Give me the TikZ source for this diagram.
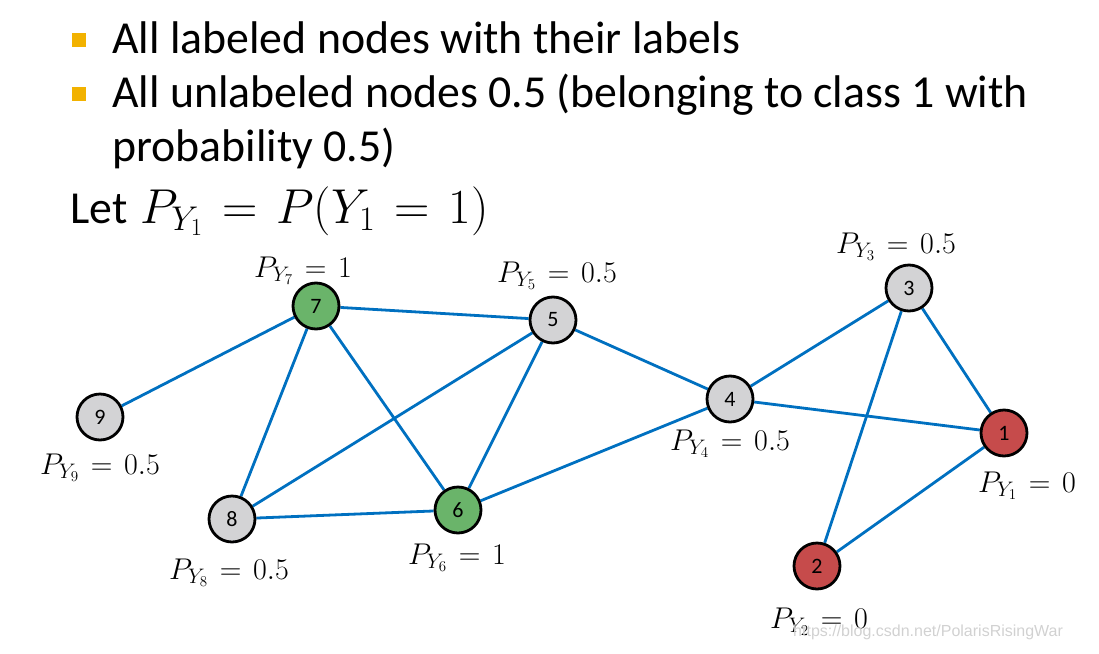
\RequirePackage{fix-cm}
\documentclass[tikz,border=0pt]{standalone}
\usepackage[no-math]{fontspec}
\usetikzlibrary{backgrounds}
\setmainfont{Carlito}
\newfontfamily\wmfont{Liberation Sans}
\definecolor{edgeblue}{RGB}{0,112,192}
\definecolor{nodegray}{RGB}{211,211,213}
\definecolor{nodegreen}{RGB}{106,180,106}
\definecolor{nodered}{RGB}{198,75,75}
\definecolor{bulletorange}{RGB}{242,178,0}
\thickmuskip=7mu plus 2mu
\tikzset{
  vert/.style={circle, draw=black, line width=2.8pt, minimum size=46pt, inner sep=0pt, font=\fontsize{22}{26}\selectfont},
  grayv/.style={vert, fill=nodegray},
  greenv/.style={vert, fill=nodegreen},
  redv/.style={vert, fill=nodered},
  edge/.style={draw=edgeblue, line width=2.8pt},
  plabel/.style={anchor=base, inner sep=0pt, font=\fontsize{30}{34}\selectfont},
  bodytext/.style={anchor=base west, inner sep=0pt, font=\fontsize{45.8}{54}\selectfont},
  bulletsq/.style={fill=bulletorange, draw=none, minimum size=14pt, inner sep=0pt}
}
\begin{document}
\begin{tikzpicture}[x=1pt, y=-1pt]
\useasboundingbox (0,0) rectangle (1099,653);
% bullets and text
\node[bulletsq] (b1) at (79,40) {};
\node[bulletsq] (b2) at (79,94) {};
\node[bodytext] (t1) at (112,53) {All labeled nodes with their labels};
\node[bodytext] (t2) at (112,107) {All unlabeled nodes 0.5 (belonging to class 1 with};
\node[bodytext] (t3) at (112,161) {probability 0.5)};
\node[bodytext] (t4) at (70,223) {Let\hspace{13pt}{\fontsize{49}{54}\selectfont$P_{Y_1}=P(Y_1=1)$}};
% vertices
\node[greenv] (n7) at (316,306) {7};
\node[grayv] (n5) at (553,320) {5};
\node[grayv] (n4) at (730,399) {4};
\node[grayv] (n3) at (909,288) {3};
\node[redv] (n1) at (1004,433) {1};
\node[redv] (n2) at (817,566) {2};
\node[grayv] (n9) at (100,417) {9};
\node[grayv] (n8) at (232,519) {8};
\node[greenv] (n6) at (458,510) {6};
% edges
\begin{scope}[on background layer]
\draw[edge] (n7) -- (n5);
\draw[edge] (n7) -- (n9);
\draw[edge] (n7) -- (n8);
\draw[edge] (n7) -- (n6);
\draw[edge] (n5) -- (n8);
\draw[edge] (n5) -- (n6);
\draw[edge] (n5) -- (n4);
\draw[edge] (n4) -- (n6);
\draw[edge] (n4) -- (n3);
\draw[edge] (n4) -- (n1);
\draw[edge] (n3) -- (n1);
\draw[edge] (n3) -- (n2);
\draw[edge] (n1) -- (n2);
\draw[edge] (n8) -- (n6);
\end{scope}
% labels
\node[plabel] (l7) at (303,277) {$P_{Y_7}=1$};
\node[plabel] (l5) at (557,282) {$P_{Y_5}=0.5$};
\node[plabel] (l3) at (896,253) {$P_{Y_3}=0.5$};
\node[plabel] (l4) at (730,450) {$P_{Y_4}=0.5$};
\node[plabel] (l1) at (1027,492) {$P_{Y_1}=0$};
\node[plabel] (l2) at (819,628) {$P_{Y_2}=0$};
\node[plabel] (l9) at (100,474) {$P_{Y_9}=0.5$};
\node[plabel] (l8) at (229,579) {$P_{Y_8}=0.5$};
\node[plabel] (l6) at (457,564) {$P_{Y_6}=1$};
% watermark
\node[anchor=base west, inner sep=0pt, text=black!18, font=\wmfont\fontsize{16}{18}\selectfont] (wm) at (793,636) {https://blog.csdn.net/PolarisRisingWar};
\end{tikzpicture}
\end{document}
